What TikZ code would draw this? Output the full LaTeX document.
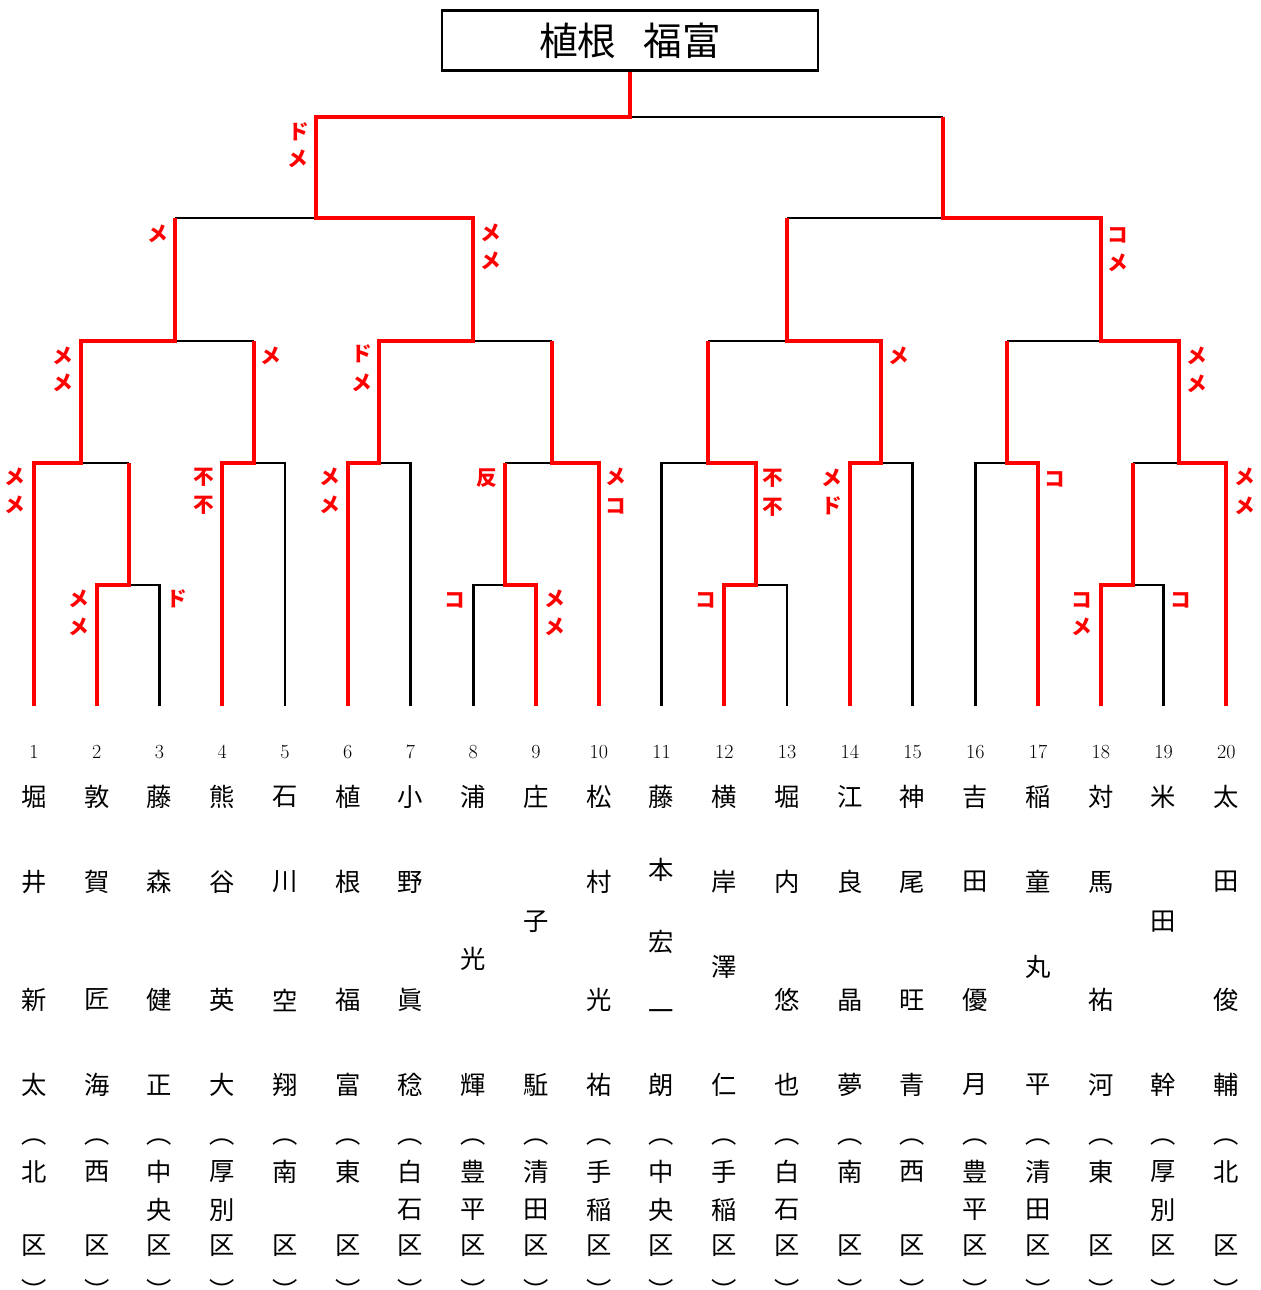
\documentclass[tikz,border=0pt]{standalone}
\usepackage{fontspec}
\newfontfamily\jp{Noto Sans CJK JP}
\begin{document}
\begin{tikzpicture}[x=0.75pt,y=-0.75pt,
  win/.style={draw=red,line width=3pt,line join=miter},
  loss/.style={draw=black,line width=2pt},
  nm/.style={inner sep=0pt,font=\jp\fontsize{19pt}{19pt}\selectfont},
  num/.style={inner sep=0pt,font=\fontsize{15pt}{15pt}\selectfont},
  lab/.style={inner sep=0pt,text=red,font=\jp\bfseries\fontsize{15.5pt}{15.5pt}\selectfont},
  titlebox/.style={draw=black,line width=2pt,minimum width=282pt,minimum height=45pt,inner sep=0pt,font=\jp\fontsize{29pt}{29pt}\selectfont}]
\useasboundingbox[fill=white] (0,0) rectangle (1261,1290);
% title
\node[titlebox] (title) at (630,40.5) {植根\hspace{0.7em}福富};
% leaf coordinates
\foreach \i in {1,...,20} \coordinate (b\i) at ({34+(\i-1)*62.75},706);
% junctions
\coordinate (a23) at (128.5,585);
\coordinate (a89) at (504.5,585);
\coordinate (a1213) at (755.5,585);
\coordinate (a1819) at (1132.5,585);
\coordinate (r1) at (81,463);
\coordinate (r45) at (253.5,463);
\coordinate (r67) at (379,463);
\coordinate (r810) at (552,463);
\coordinate (r1113) at (708,463);
\coordinate (r1415) at (881,463);
\coordinate (r1617) at (1006.5,463);
\coordinate (r1820) at (1179,463);
\coordinate (q1) at (174.5,341);
\coordinate (q2) at (473,341);
\coordinate (q3) at (787,341);
\coordinate (q4) at (1101,341);
\coordinate (s1) at (316,218);
\coordinate (s2) at (943,218);
\coordinate (f) at (630,117);
% losing lines
\draw[loss] (b3) |- (a23);
\draw[loss] (b5) |- (r45);
\draw[loss] (b7) |- (r67);
\draw[loss] (b8) |- (a89);
\draw[loss] (b11) |- (r1113);
\draw[loss] (b13) |- (a1213);
\draw[loss] (b15) |- (r1415);
\draw[loss] (b16) |- (r1617);
\draw[loss] (b19) |- (a1819);
\draw[loss] (r1) -- (a23 |- r1);
\draw[loss] (r810) -- (a89 |- r810);
\draw[loss] (r1820) -- (a1819 |- r1820);
\draw[loss] (q1) -- (r45 |- q1);
\draw[loss] (q2) -- (r810 |- q2);
\draw[loss] (q3) -- (r1113 |- q3);
\draw[loss] (q4) -- (r1617 |- q4);
\draw[loss] (s1) -- (q1 |- s1);
\draw[loss] (s2) -- (q3 |- s2);
\draw[loss] (f) -- (s2 |- f);
% winning lines
\draw[win] (b1) |- (r1) |- (q1) -- (q1 |- s1);
\draw[win] (b2) |- (a23) -- (a23 |- r1);
\draw[win] (b4) |- (r45) -- (r45 |- q1);
\draw[win] (b6) |- (r67) |- (q2) |- (s1) |- (f) -- (title.south);
\draw[win] (b9) |- (a89) -- (a89 |- r810);
\draw[win] (b10) |- (r810) -- (r810 |- q2);
\draw[win] (b12) |- (a1213) |- (r1113) -- (r1113 |- q3);
\draw[win] (b14) |- (r1415) |- (q3) -- (q3 |- s2);
\draw[win] (b17) |- (r1617) -- (r1617 |- q4);
\draw[win] (b18) |- (a1819) -- (a1819 |- r1820);
\draw[win] (b20) |- (r1820) |- (q4) |- (s2) -- (s2 |- f);
% score labels
\foreach \n/\x/\y/\c in {
 1/299/132/ド, 2/298/159/メ, 3/158/234/メ, 4/491/233/メ, 5/491/261/メ,
 6/1118/235/コ, 7/1118/263/メ, 8/63/356/メ, 9/63/383/メ, 10/271/356/メ,
 11/362/354/ド, 12/362/383/メ, 13/899/356/メ, 14/1197/356/メ, 15/1197/384/メ,
 16/15/477/メ, 17/15/505/メ, 18/204/477/不, 19/204/505/不, 20/330/477/メ,
 21/330/505/メ, 22/487/478/反, 23/616/477/メ, 24/616/506/コ, 25/773/478/不,
 26/773/507/不, 27/832/478/メ, 28/832/506/ド, 29/1055/479/コ, 30/1245/477/メ,
 31/1245/506/メ, 32/79/599/メ, 33/79/627/メ, 34/177/599/ド, 35/455/600/コ,
 36/555/599/メ, 37/555/627/メ, 38/706/600/コ, 39/1082/600/コ, 40/1082/627/メ,
 41/1181/600/コ}
  \node[lab] (lab\n) at (\x,\y) {\c};
% numbers
\foreach \i in {1,...,20} \node[num] (no\i) at ({34+(\i-1)*62.75},752) {\i};
% names row 1
\foreach \c [count=\i] in {堀,敦,藤,熊,石,植,小,浦,庄,松,藤,横,堀,江,神,吉,稲,対,米,太}
  \node[nm] (ra\i) at ({34+(\i-1)*62.75},797) {\c};
% names row 2
\foreach \i/\c in {1/井,2/賀,3/森,4/谷,5/川,6/根,7/野,10/村,12/岸,13/内,14/良,15/尾,16/田,17/童,18/馬,20/田}
  \node[nm] (rb\i) at ({34+(\i-1)*62.75},882) {\c};
% names row 3
\foreach \i/\c in {1/新,2/匠,3/健,4/英,5/空,6/福,7/眞,10/光,13/悠,14/晶,15/旺,16/優,18/祐,20/俊}
  \node[nm] (rc\i) at ({34+(\i-1)*62.75},1000) {\c};
% names row 4
\foreach \c [count=\i] in {太,海,正,大,翔,富,稔,輝,駈,祐,朗,仁,也,夢,青,月,平,河,幹,輔}
  \node[nm] (rd\i) at ({34+(\i-1)*62.75},1085) {\c};
% irregular name characters
\foreach \n/\i/\y/\c in {1/8/959/光, 2/9/922/子, 3/11/870/本, 4/11/942/宏, 5/11/1015/一, 6/12/967/澤, 7/17/967/丸, 8/19/922/田}
  \node[nm] (rx\n) at ({34+(\i-1)*62.75},\y) {\c};
% districts
\foreach \i in {1,...,20} {
  \node[nm] (po\i) at ({34+(\i-1)*62.75},1142) {︵};
  \node[nm] (ku\i) at ({34+(\i-1)*62.75},1246) {区};
  \node[nm] (pc\i) at ({34+(\i-1)*62.75},1290) {︶};
}
\foreach \c [count=\i] in {北,西,中,厚,南,東,白,豊,清,手,中,手,白,南,西,豊,清,東,厚,北}
  \node[nm] (da\i) at ({34+(\i-1)*62.75},1172) {\c};
\foreach \i/\c in {3/央,4/別,7/石,8/平,9/田,10/稲,11/央,12/稲,13/石,16/平,17/田,19/別}
  \node[nm] (db\i) at ({34+(\i-1)*62.75},1210) {\c};
\end{tikzpicture}
\end{document}
